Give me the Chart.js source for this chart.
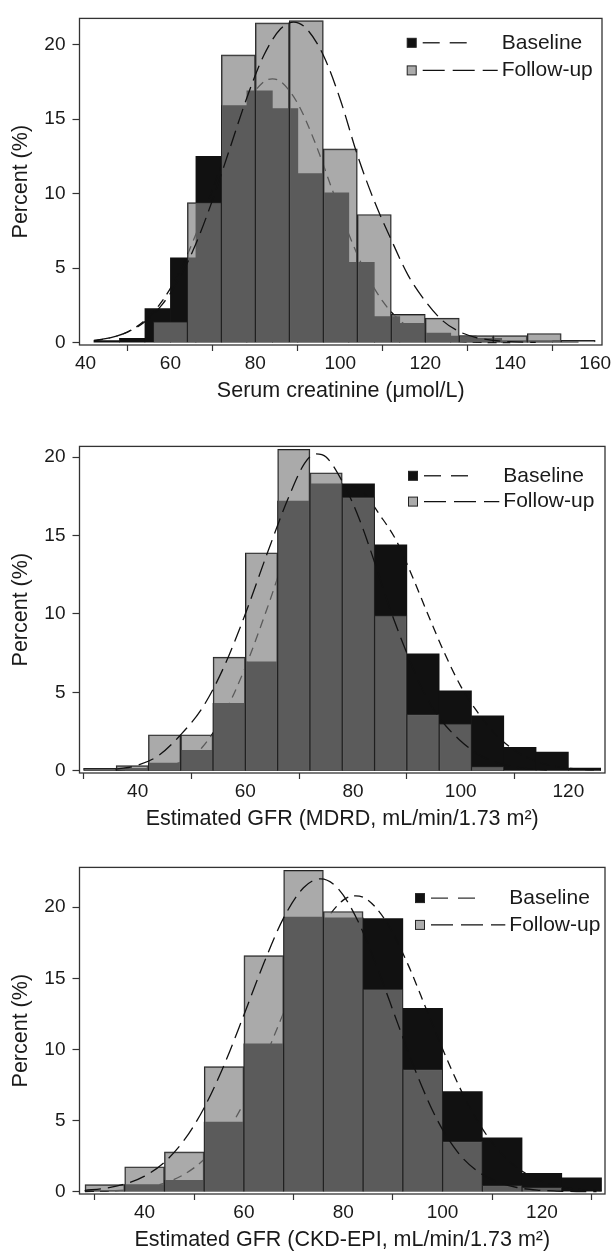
<!DOCTYPE html>
<html>
<head>
<meta charset="utf-8">
<script src="https://cdn.jsdelivr.net/npm/chart.js@4.4.1/dist/chart.umd.min.js"></script>
<style>
  html, body { margin: 0; padding: 0; background: #fff; width: 616px; height: 1258px; overflow: hidden; }
  .panel { position: absolute; left: 0; width: 616px; height: 410px; }
</style>
</head>
<body>
<div class="panel" style="top:0"><canvas id="c1" width="616" height="410"></canvas></div>
<div class="panel" style="top:428px"><canvas id="c2" width="616" height="410"></canvas></div>
<div class="panel" style="top:849px"><canvas id="c3" width="616" height="410"></canvas></div>
<script>
// shared ticks
const pctTicks = [0, 5, 10, 15, 20];
const legendLabels = ['Baseline', 'Follow-up'];

// panel 1 - serum creatinine
const creatTicks = [40, 60, 80, 100, 120, 140, 160];
const creatBaseBins = [45, 51, 57, 63, 69, 75, 81, 87, 93, 99, 105, 111, 117, 123, 129, 135, 141, 147, 153];
const creatBasePct = [0.15, 0.3, 2.3, 5.7, 12.5, 15.9, 16.9, 15.7, 11.35, 10.05, 5.4, 1.75, 1.3, 0.65, 0.45, 0.3, 0.15, 0.15, 0.17];
const creatFollowBins = [60, 68, 76, 84, 92, 100, 108, 116, 124, 132, 140, 148, 156];
const creatFollowPct = [1.4, 9.4, 19.3, 21.45, 21.6, 13.0, 8.6, 1.9, 1.65, 0.48, 0.48, 0.62, 0.17];
const creatBaseCurveX = [42, 46, 50, 54, 58, 62, 66, 70, 74, 78, 82, 84, 86, 90, 94, 98, 102, 106, 110, 114, 118, 122, 126, 130, 134, 140];
const creatBaseCurveY = [0.14, 0.34, 0.74, 1.5, 2.77, 4.69, 7.28, 10.34, 13.46, 16.03, 17.51, 17.7, 17.51, 16.03, 13.46, 10.34, 7.28, 4.69, 2.77, 1.5, 0.74, 0.34, 0.14, 0.05, 0.02, 0.01];
const creatFollowCurveX = [42, 46, 50, 54, 58, 62, 66, 70, 74, 78, 82, 86, 89, 92, 96, 100, 104, 108, 112, 116, 120, 124, 128, 132, 136, 140, 146];
const creatFollowCurveY = [0.16, 0.35, 0.73, 1.41, 2.54, 4.25, 6.64, 9.64, 13.04, 16.43, 19.28, 21.07, 21.5, 21.07, 19.28, 16.3, 12.6, 9.5, 6.9, 4.5, 2.8, 1.5, 0.75, 0.35, 0.16, 0.07, 0.02];

// panel 2 - eGFR MDRD
const mdrdTicks = [40, 60, 80, 100, 120];
const mdrdBins = [33, 39, 45, 51, 57, 63, 69, 75, 81, 87, 93, 99, 105, 111, 117, 123];
const mdrdBasePct = [0.15, 0.15, 0.5, 1.3, 4.3, 6.95, 17.2, 18.3, 18.3, 14.4, 7.45, 5.1, 3.5, 1.5, 1.2, 0.17];
const mdrdFollowPct = [0.15, 0.33, 2.3, 2.3, 7.25, 13.9, 20.5, 19.0, 17.45, 9.9, 3.6, 3.0, 0.27, null, null, null];
const mdrdBaseCurveX = [36, 40, 44, 48, 52, 56, 60, 64, 68, 72, 76, 79, 82, 85, 88, 91, 94, 97, 100, 103, 106, 110, 114, 118, 122, 126];
const mdrdBaseCurveY = [0.05, 0.12, 0.25, 0.55, 1.5, 3.6, 6.6, 10.3, 14.2, 16.8, 18.0, 18.2, 17.7, 16.3, 14.7, 12.4, 9.9, 7.5, 5.4, 3.8, 2.5, 1.3, 0.6, 0.25, 0.1, 0.04];
const mdrdFollowCurveX = [36, 40, 44, 48, 52, 56, 60, 64, 68, 71, 73, 75, 78, 81, 84, 87, 90, 93, 96, 100, 104, 108, 112, 116];
const mdrdFollowCurveY = [0.1, 0.35, 1.0, 2.3, 4.0, 6.6, 10.0, 13.8, 17.4, 19.6, 20.2, 20.0, 18.45, 16.2, 13.3, 10.2, 7.5, 5.1, 3.4, 1.9, 0.9, 0.4, 0.15, 0.05];

// panel 3 - eGFR CKD-EPI
const ckdTicks = [40, 60, 80, 100, 120];
const ckdBins = [32, 40, 48, 56, 64, 72, 80, 88, 96, 104, 112, 120, 128];
const ckdBasePct = [0.1, 0.5, 0.8, 4.9, 10.4, 19.3, 19.25, 19.2, 12.9, 7.05, 3.8, 1.3, 0.98];
const ckdFollowPct = [0.5, 1.76, 2.8, 8.8, 16.6, 22.6, 19.7, 14.25, 8.6, 3.54, 0.46, 0.32, null];
const ckdBaseCurveX = [28, 32, 36, 40, 44, 48, 52, 56, 60, 64, 68, 72, 76, 80, 82.5, 85, 89, 93, 97, 101, 105, 109, 113, 117, 121, 125, 129, 132];
const ckdBaseCurveY = [0.02, 0.05, 0.12, 0.28, 0.61, 1.23, 2.28, 3.92, 6.24, 9.22, 12.6, 16.0, 18.8, 20.5, 20.8, 20.5, 18.8, 16.0, 12.6, 9.22, 6.24, 3.92, 2.28, 1.23, 0.61, 0.28, 0.12, 0.06];
const ckdFollowCurveX = [28, 32, 36, 40, 44, 48, 52, 56, 60, 64, 68, 72, 75.5, 79, 83, 87, 91, 95, 99, 103, 107, 111, 115, 119, 123, 127, 131];
const ckdFollowCurveY = [0.1, 0.24, 0.54, 1.1, 2.08, 3.64, 5.91, 8.9, 12.43, 16.06, 19.25, 21.37, 22.0, 21.3, 19.0, 15.6, 11.8, 8.1, 5.0, 2.8, 1.45, 0.7, 0.3, 0.12, 0.05, 0.02, 0.01];

const FONT = '"Liberation Sans", Arial, Helvetica, sans-serif';
const INK = '#1a1a1a';
const BASE_FILL = '#111111';
const FOLLOW_FILL = 'rgba(128,128,128,0.67)';
const BASE_DASH = [9, 6];
const FOLLOW_DASH = [16, 7];

Chart.defaults.font.family = FONT;
Chart.defaults.color = INK;

function pts(xs, ys) {
  return xs.map((x, i) => ({ x, y: ys[i] }));
}

// outline round the plot region, drawn over the bars
const framePlugin = {
  id: 'frame',
  afterDatasetsDraw(chart) {
    const { ctx, chartArea: a } = chart;
    ctx.save();
    ctx.strokeStyle = '#333';
    ctx.lineWidth = 1.3;
    ctx.strokeRect(a.left, a.top, a.right - a.left, a.bottom - a.top);
    ctx.restore();
  }
};

// square + line key, like the original stats package draws it
const histLegend = {
  id: 'histLegend',
  afterDraw(chart, args, opts) {
    const { ctx, chartArea: a } = chart;
    const sx = a.right - opts.squareFromRight;
    const tx = a.right - opts.textFromRight;
    const rows = [
      { fill: BASE_FILL, dash: [17, 10], end: sx + 57, color: '#333' },
      { fill: '#ababab', dash: [22, 8], end: tx - 4, color: '#111' }
    ];
    ctx.save();
    rows.forEach((r, i) => {
      const y = a.top + opts.rows[i];
      ctx.fillStyle = r.fill;
      ctx.fillRect(sx - 4.5, y - 4.5, 9, 9);
      ctx.strokeStyle = '#222';
      ctx.lineWidth = 1;
      ctx.strokeRect(sx - 4.5, y - 4.5, 9, 9);
      ctx.strokeStyle = r.color;
      ctx.lineWidth = 1.4;
      ctx.setLineDash(r.dash);
      ctx.beginPath();
      ctx.moveTo(sx + 11, y);
      ctx.lineTo(r.end, y);
      ctx.stroke();
      ctx.setLineDash([]);
      ctx.fillStyle = INK;
      ctx.font = '21px ' + FONT;
      ctx.textBaseline = 'middle';
      ctx.textAlign = 'left';
      ctx.fillText(legendLabels[i], tx, y);
    });
    ctx.restore();
  }
};

function makePanel(p) {
  const setTicks = (list) => (scale) => { scale.ticks = list.map((value) => ({ value })); };
  const tickGrid = (len) => ({
    drawOnChartArea: false, drawTicks: true, tickLength: len, tickWidth: 1.2, tickColor: '#333'
  });

  return new Chart(document.getElementById(p.id), {
    type: 'bar',
    data: {
      datasets: [
        {
          type: 'line', label: 'Follow-up curve', data: pts(p.followCurve[0], p.followCurve[1]),
          xAxisID: 'x', borderColor: '#111', borderWidth: 1.3, borderDash: FOLLOW_DASH,
          pointRadius: 0, fill: false, cubicInterpolationMode: 'monotone', order: 0
        },
        {
          type: 'bar', label: 'Follow-up', data: pts(p.followBins, p.followPct),
          xAxisID: 'x2', backgroundColor: FOLLOW_FILL, borderColor: '#222', borderWidth: 1,
          grouped: false, barPercentage: 1, categoryPercentage: 1, order: 1
        },
        {
          type: 'line', label: 'Baseline curve', data: pts(p.baseCurve[0], p.baseCurve[1]),
          xAxisID: 'x', borderColor: '#111', borderWidth: 1.3, borderDash: BASE_DASH,
          pointRadius: 0, fill: false, cubicInterpolationMode: 'monotone', order: 2
        },
        {
          type: 'bar', label: 'Baseline', data: pts(p.baseBins, p.basePct),
          xAxisID: 'x', backgroundColor: BASE_FILL, borderWidth: 0,
          grouped: false, barPercentage: 1, categoryPercentage: 1, order: 3
        }
      ]
    },
    options: {
      responsive: false,
      devicePixelRatio: 1,
      animation: false,
      layout: { padding: { top: 9.3, right: p.padRight, left: 0, bottom: 0 } },
      plugins: {
        legend: { display: false },
        tooltip: { enabled: false },
        histLegend: p.legend
      },
      scales: {
        x: {
          type: 'linear', position: 'bottom', min: p.xMin, max: p.xMax, offset: false,
          afterBuildTicks: setTicks(p.xTicks),
          afterFit: (s) => { s.height = 65; },
          grid: tickGrid(6),
          border: { display: false },
          ticks: { font: { size: 19 }, color: INK, padding: 1, maxRotation: 0, autoSkip: false },
          title: { display: true, text: p.title, font: { size: 21.5 }, color: INK, padding: { top: 0, bottom: 6 } }
        },
        // hidden twin axis so the follow-up bins get their own bar width
        x2: {
          type: 'linear', display: false, min: p.xMin, max: p.xMax, offset: false,
          afterBuildTicks: setTicks(p.xTicks)
        },
        y: {
          type: 'linear', min: p.yMin, max: p.yMax,
          afterBuildTicks: setTicks(pctTicks),
          afterFit: (s) => { s.width = 79.5; },
          grid: tickGrid(7),
          border: { display: false },
          ticks: { font: { size: 19 }, color: INK, padding: 7 },
          title: { display: true, text: 'Percent (%)', font: { size: 21.5 }, color: INK, padding: { top: 8, bottom: 0 } }
        }
      }
    },
    plugins: [framePlugin, histLegend]
  });
}

makePanel({
  id: 'c1', title: 'Serum creatinine (\u03bcmol/L)',
  xMin: 38.6, xMax: 161.6, yMin: -0.15, yMax: 21.75, xTicks: creatTicks, padRight: 14,
  baseBins: creatBaseBins, basePct: creatBasePct, followBins: creatFollowBins, followPct: creatFollowPct,
  baseCurve: [creatBaseCurveX, creatBaseCurveY], followCurve: [creatFollowCurveX, creatFollowCurveY],
  legend: { squareFromRight: 190.3, textFromRight: 100.3, rows: [24.4, 52] }
});

makePanel({
  id: 'c2', title: 'Estimated GFR (MDRD, mL/min/1.73 m\u00b2)',
  xMin: 29.2, xMax: 126.8, yMin: -0.14, yMax: 20.68, xTicks: mdrdTicks, padRight: 11,
  baseBins: mdrdBins, basePct: mdrdBasePct, followBins: mdrdBins, followPct: mdrdFollowPct,
  baseCurve: [mdrdBaseCurveX, mdrdBaseCurveY], followCurve: [mdrdFollowCurveX, mdrdFollowCurveY],
  legend: { squareFromRight: 192, textFromRight: 101.7, rows: [29.4, 55.2] }
});

makePanel({
  id: 'c3', title: 'Estimated GFR (CKD-EPI, mL/min/1.73 m\u00b2)',
  xMin: 26.9, xMax: 132.7, yMin: -0.157, yMax: 22.8, xTicks: ckdTicks, padRight: 11,
  baseBins: ckdBins, basePct: ckdBasePct, followBins: ckdBins, followPct: ckdFollowPct,
  baseCurve: [ckdBaseCurveX, ckdBaseCurveY], followCurve: [ckdFollowCurveX, ckdFollowCurveY],
  legend: { squareFromRight: 185, textFromRight: 95.7, rows: [30.7, 57.5] }
});
</script>
</body>
</html>
